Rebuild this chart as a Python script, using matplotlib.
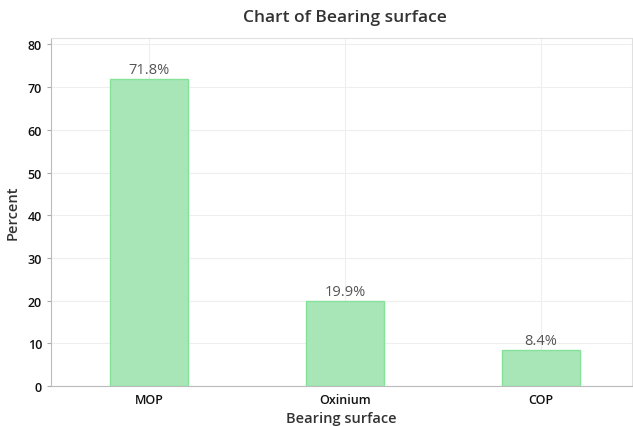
import matplotlib.pyplot as plt

categories = ["MOP", "Oxinium", "COP"]
percents = [71.8, 19.9, 8.4]
yticks = [0, 10, 20, 30, 40, 50, 60, 70, 80]

plt.rcParams["font.family"] = ["Open Sans", "DejaVu Sans"]

fig = plt.figure(figsize=(6.33, 4.27), dpi=100)
ax = fig.add_axes([51 / 633, 1 - 387 / 427, 581 / 633, 348 / 427])

x = range(len(categories))
ax.bar(x, percents, width=0.4, color="#a8e6b8", edgecolor="#84e398", linewidth=1, zorder=3)
for xi, v in zip(x, percents):
    ax.text(xi, v + 0.5, f"{v}%", ha="center", va="bottom", fontsize=10.5, color="#555555")

ax.set_xlim(-0.5, 2.465)
ax.set_ylim(0, 81.5)
ax.set_xticks(list(x))
ax.set_xticklabels(categories, fontsize=9, color="#111111", fontweight="semibold")
ax.set_yticks(yticks)
ax.set_yticklabels([str(t) for t in yticks], fontsize=9, color="#111111", fontweight="semibold")
ax.tick_params(axis="y", length=3, color="#aaaaaa")
ax.tick_params(axis="x", length=0, pad=5)
ax.grid(True, color="#eeeeee", linewidth=0.8, zorder=0)

for side in ["top", "right"]:
    ax.spines[side].set_color("#e0e0e0")
for side in ["left", "bottom"]:
    ax.spines[side].set_color("#bbbbbb")

ax.set_xlabel("Bearing surface", fontsize=10.5, color="#333333", labelpad=4, fontweight="semibold")
ax.set_ylabel("Percent", fontsize=10.5, color="#333333", labelpad=6, fontweight="semibold")
fig.text(345 / 633, 1 - 18 / 427, "Chart of Bearing surface", ha="center", va="center",
         fontsize=12.5, color="#333333", fontweight="semibold")

fig.savefig("out.png", dpi=100)
